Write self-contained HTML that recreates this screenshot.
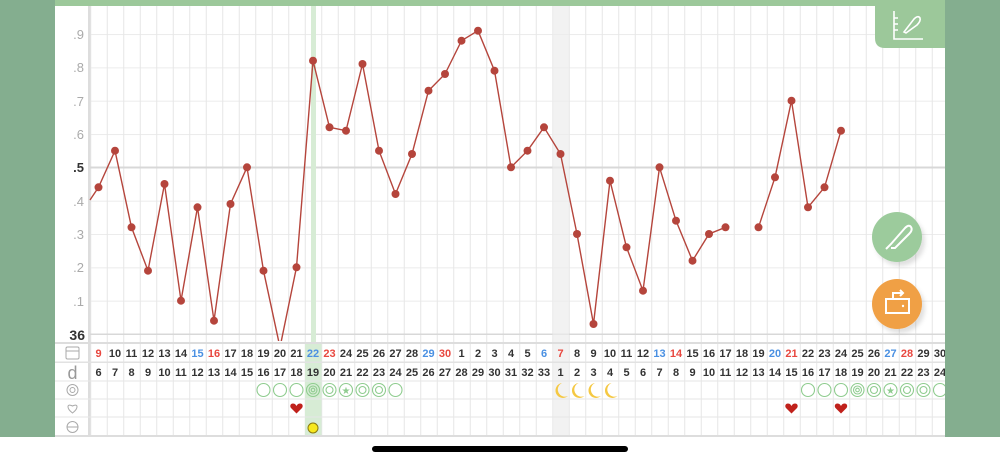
<!DOCTYPE html>
<html><head><meta charset="utf-8"><style>
html,body{margin:0;padding:0;background:#fff;}
svg{display:block;font-family:"Liberation Sans",sans-serif;}
.t{font-size:11px;fill:#333;text-anchor:middle;font-weight:bold;}
.r{fill:#e8473f;} .b{fill:#4a90e2;}
.ya{font-size:13px;fill:#aaa;text-anchor:end;}
</style></head><body>
<svg width="1000" height="462" viewBox="0 0 1000 462">
<defs>
<pattern id="vg" x="90.25" y="0" width="16.5" height="10" patternUnits="userSpaceOnUse"><rect x="0" y="0" width="1" height="10" fill="#e6e6e6"/></pattern>
<pattern id="hg" x="0" y="0.7" width="10" height="33.33" patternUnits="userSpaceOnUse"><rect x="0" y="0" width="10" height="1" fill="#ececec"/></pattern>
<filter id="sh" x="-30%" y="-30%" width="170%" height="170%"><feDropShadow dx="3" dy="4" stdDeviation="2" flood-color="#000" flood-opacity="0.12"/></filter>
</defs>
<rect x="0" y="0" width="1000" height="462" fill="#fff"/>
<rect x="90" y="5" width="855" height="338" fill="url(#hg)"/>
<rect x="90" y="5" width="855" height="431" fill="url(#vg)"/>
<rect x="88" y="5" width="2.5" height="431" fill="#ddd"/>
<rect x="90" y="166.5" width="855" height="2" fill="#d8d8d8"/>
<rect x="90" y="333.5" width="855" height="1.5" fill="#d8d8d8"/>
<rect x="311" y="5" width="5" height="338" fill="#d7ecd5"/>
<rect x="305" y="343" width="16.5" height="93" fill="#d7ecd5"/>
<rect x="552.5" y="5" width="16.5" height="431" fill="#ececec" opacity="0.7"/>
<rect x="55" y="342" width="890" height="2" fill="#ddd"/>
<rect x="55" y="361.5" width="890" height="1.5" fill="#e2e2e2"/>
<rect x="55" y="380.5" width="890" height="1" fill="#e6e6e6"/>
<rect x="55" y="398.5" width="890" height="1" fill="#e6e6e6"/>
<rect x="55" y="416.5" width="890" height="1" fill="#e6e6e6"/>
<rect x="55" y="435" width="890" height="2" fill="#ddd"/>
<text class="ya" x="84" y="39">.9</text>
<text class="ya" x="84" y="72">.8</text>
<text class="ya" x="84" y="106">.7</text>
<text class="ya" x="84" y="139">.6</text>
<text class="ya" x="84" y="172" style="fill:#333;font-weight:bold">.5</text>
<text class="ya" x="84" y="206">.4</text>
<text class="ya" x="84" y="239">.3</text>
<text class="ya" x="84" y="272">.2</text>
<text class="ya" x="84" y="306">.1</text>
<text class="ya" x="85" y="340" style="fill:#333;font-weight:bold;font-size:14px">36</text>
<svg x="0" y="0" width="1000" height="341" overflow="hidden">
<polyline fill="none" stroke="#b5453c" stroke-width="1.4" points="90,200 98.5,187.3 115,150.7 131.5,227.3 148,270.7 164.5,184 181,300.7 197.5,207.3 214,320.7 230.5,204 247,167.3 263.5,270.7 280,347.3 296.5,267.3 313,60.7 329.5,127.3 346,130.7 362.5,64 379,150.7 395.5,194 412,154 428.5,90.7 445,74 461.5,40.7 478,30.7 494.5,70.7 511,167.3 527.5,150.7 544,127.3 560.5,154 577,234 593.5,324 610,180.7 626.5,247.3 643,290.7 659.5,167.3 676,220.7 692.5,260.7 709,234 725.5,227.3"/>
<polyline fill="none" stroke="#b5453c" stroke-width="1.4" points="758.5,227.3 775,177.3 791.5,100.7 808,207.3 824.5,187.3 841,130.7"/>
<g fill="#b5453c">
<circle cx="98.5" cy="187.3" r="4"/><circle cx="115" cy="150.7" r="4"/><circle cx="131.5" cy="227.3" r="4"/><circle cx="148" cy="270.7" r="4"/><circle cx="164.5" cy="184" r="4"/><circle cx="181" cy="300.7" r="4"/><circle cx="197.5" cy="207.3" r="4"/><circle cx="214" cy="320.7" r="4"/><circle cx="230.5" cy="204" r="4"/><circle cx="247" cy="167.3" r="4"/><circle cx="263.5" cy="270.7" r="4"/><circle cx="296.5" cy="267.3" r="4"/><circle cx="313" cy="60.7" r="4"/><circle cx="329.5" cy="127.3" r="4"/><circle cx="346" cy="130.7" r="4"/><circle cx="362.5" cy="64" r="4"/><circle cx="379" cy="150.7" r="4"/><circle cx="395.5" cy="194" r="4"/><circle cx="412" cy="154" r="4"/><circle cx="428.5" cy="90.7" r="4"/><circle cx="445" cy="74" r="4"/><circle cx="461.5" cy="40.7" r="4"/><circle cx="478" cy="30.7" r="4"/><circle cx="494.5" cy="70.7" r="4"/><circle cx="511" cy="167.3" r="4"/><circle cx="527.5" cy="150.7" r="4"/><circle cx="544" cy="127.3" r="4"/><circle cx="560.5" cy="154" r="4"/><circle cx="577" cy="234" r="4"/><circle cx="593.5" cy="324" r="4"/><circle cx="610" cy="180.7" r="4"/><circle cx="626.5" cy="247.3" r="4"/><circle cx="643" cy="290.7" r="4"/><circle cx="659.5" cy="167.3" r="4"/><circle cx="676" cy="220.7" r="4"/><circle cx="692.5" cy="260.7" r="4"/><circle cx="709" cy="234" r="4"/><circle cx="725.5" cy="227.3" r="4"/><circle cx="758.5" cy="227.3" r="4"/><circle cx="775" cy="177.3" r="4"/><circle cx="791.5" cy="100.7" r="4"/><circle cx="808" cy="207.3" r="4"/><circle cx="824.5" cy="187.3" r="4"/><circle cx="841" cy="130.7" r="4"/>
</g>
</svg>
<g>
<text x="98.5" y="357" class="t r">9</text><text x="115" y="357" class="t">10</text><text x="131.5" y="357" class="t">11</text><text x="148" y="357" class="t">12</text><text x="164.5" y="357" class="t">13</text><text x="181" y="357" class="t">14</text><text x="197.5" y="357" class="t b">15</text><text x="214" y="357" class="t r">16</text><text x="230.5" y="357" class="t">17</text><text x="247" y="357" class="t">18</text><text x="263.5" y="357" class="t">19</text><text x="280" y="357" class="t">20</text><text x="296.5" y="357" class="t">21</text><text x="313" y="357" class="t b">22</text><text x="329.5" y="357" class="t r">23</text><text x="346" y="357" class="t">24</text><text x="362.5" y="357" class="t">25</text><text x="379" y="357" class="t">26</text><text x="395.5" y="357" class="t">27</text><text x="412" y="357" class="t">28</text><text x="428.5" y="357" class="t b">29</text><text x="445" y="357" class="t r">30</text><text x="461.5" y="357" class="t">1</text><text x="478" y="357" class="t">2</text><text x="494.5" y="357" class="t">3</text><text x="511" y="357" class="t">4</text><text x="527.5" y="357" class="t">5</text><text x="544" y="357" class="t b">6</text><text x="560.5" y="357" class="t r">7</text><text x="577" y="357" class="t">8</text><text x="593.5" y="357" class="t">9</text><text x="610" y="357" class="t">10</text><text x="626.5" y="357" class="t">11</text><text x="643" y="357" class="t">12</text><text x="659.5" y="357" class="t b">13</text><text x="676" y="357" class="t r">14</text><text x="692.5" y="357" class="t">15</text><text x="709" y="357" class="t">16</text><text x="725.5" y="357" class="t">17</text><text x="742" y="357" class="t">18</text><text x="758.5" y="357" class="t">19</text><text x="775" y="357" class="t b">20</text><text x="791.5" y="357" class="t r">21</text><text x="808" y="357" class="t">22</text><text x="824.5" y="357" class="t">23</text><text x="841" y="357" class="t">24</text><text x="857.5" y="357" class="t">25</text><text x="874" y="357" class="t">26</text><text x="890.5" y="357" class="t b">27</text><text x="907" y="357" class="t r">28</text><text x="923.5" y="357" class="t">29</text><text x="940" y="357" class="t">30</text>
</g>
<g>
<text x="98.5" y="376" class="t">6</text><text x="115" y="376" class="t">7</text><text x="131.5" y="376" class="t">8</text><text x="148" y="376" class="t">9</text><text x="164.5" y="376" class="t">10</text><text x="181" y="376" class="t">11</text><text x="197.5" y="376" class="t">12</text><text x="214" y="376" class="t">13</text><text x="230.5" y="376" class="t">14</text><text x="247" y="376" class="t">15</text><text x="263.5" y="376" class="t">16</text><text x="280" y="376" class="t">17</text><text x="296.5" y="376" class="t">18</text><text x="313" y="376" class="t">19</text><text x="329.5" y="376" class="t">20</text><text x="346" y="376" class="t">21</text><text x="362.5" y="376" class="t">22</text><text x="379" y="376" class="t">23</text><text x="395.5" y="376" class="t">24</text><text x="412" y="376" class="t">25</text><text x="428.5" y="376" class="t">26</text><text x="445" y="376" class="t">27</text><text x="461.5" y="376" class="t">28</text><text x="478" y="376" class="t">29</text><text x="494.5" y="376" class="t">30</text><text x="511" y="376" class="t">31</text><text x="527.5" y="376" class="t">32</text><text x="544" y="376" class="t">33</text><text x="560.5" y="376" class="t">1</text><text x="577" y="376" class="t">2</text><text x="593.5" y="376" class="t">3</text><text x="610" y="376" class="t">4</text><text x="626.5" y="376" class="t">5</text><text x="643" y="376" class="t">6</text><text x="659.5" y="376" class="t">7</text><text x="676" y="376" class="t">8</text><text x="692.5" y="376" class="t">9</text><text x="709" y="376" class="t">10</text><text x="725.5" y="376" class="t">11</text><text x="742" y="376" class="t">12</text><text x="758.5" y="376" class="t">13</text><text x="775" y="376" class="t">14</text><text x="791.5" y="376" class="t">15</text><text x="808" y="376" class="t">16</text><text x="824.5" y="376" class="t">17</text><text x="841" y="376" class="t">18</text><text x="857.5" y="376" class="t">19</text><text x="874" y="376" class="t">20</text><text x="890.5" y="376" class="t">21</text><text x="907" y="376" class="t">22</text><text x="923.5" y="376" class="t">23</text><text x="940" y="376" class="t">24</text>
</g>
<g stroke="#aaa" fill="none" stroke-width="1">
<rect x="66" y="347" width="13" height="12" rx="1.5"/><line x1="66" y1="351" x2="79" y2="351"/>
<circle cx="72.5" cy="390" r="5.5"/><circle cx="72.5" cy="390" r="2.5"/>
<path d="M72.5 413 C66 408 67 403 72.5 406 C78 403 79 408 72.5 413Z"/>
<circle cx="72.5" cy="427" r="5.5"/><path d="M67 427 H78"/>
</g>
<text x="72.5" y="379" style="font-size:18px;fill:#999;text-anchor:middle">d</text>
<g fill="none" stroke="#8fcc8f" stroke-width="1.1">
<circle cx="263.5" cy="390" r="6.5"/><circle cx="280" cy="390" r="6.5"/><circle cx="296.5" cy="390" r="6.5"/>
<circle cx="313" cy="390" r="6.5"/><circle cx="313" cy="390" r="4"/><circle cx="313" cy="390" r="1.8"/>
<circle cx="329.5" cy="390" r="6.5"/><circle cx="329.5" cy="390" r="3.5"/>
<circle cx="346" cy="390" r="6.5"/>
<circle cx="362.5" cy="390" r="6.5"/><circle cx="362.5" cy="390" r="3.5"/>
<circle cx="379" cy="390" r="6.5"/><circle cx="379" cy="390" r="3.5"/>
<circle cx="395.5" cy="390" r="6.5"/>
<circle cx="808" cy="390" r="6.5"/><circle cx="824.5" cy="390" r="6.5"/><circle cx="841" cy="390" r="6.5"/>
<circle cx="857.5" cy="390" r="6.5"/><circle cx="857.5" cy="390" r="4"/><circle cx="857.5" cy="390" r="1.8"/>
<circle cx="874" cy="390" r="6.5"/><circle cx="874" cy="390" r="3.5"/>
<circle cx="890.5" cy="390" r="6.5"/>
<circle cx="907" cy="390" r="6.5"/><circle cx="907" cy="390" r="3.5"/>
<circle cx="923.5" cy="390" r="6.5"/><circle cx="923.5" cy="390" r="3.5"/>
<circle cx="940" cy="390" r="6.5"/>
</g>
<text x="346" y="394" style="font-size:10px;fill:#8fcc8f;text-anchor:middle">★</text>
<text x="890.5" y="394" style="font-size:10px;fill:#8fcc8f;text-anchor:middle">★</text>
<g fill="#f5c842">
<path d="M562 383 A7.5 7.5 0 1 0 568 396 A6 6 0 1 1 562 383Z"/>
<path d="M578.5 383 A7.5 7.5 0 1 0 584.5 396 A6 6 0 1 1 578.5 383Z"/>
<path d="M595 383 A7.5 7.5 0 1 0 601 396 A6 6 0 1 1 595 383Z"/>
<path d="M611.5 383 A7.5 7.5 0 1 0 617.5 396 A6 6 0 1 1 611.5 383Z"/>
</g>
<g fill="#c0211b">
<path d="M296.5 413.5 L291 408 C289.5 406 290.5 403.5 293 403.5 C295 403.5 296 405 296.5 406 C297 405 298 403.5 300 403.5 C302.5 403.5 303.5 406 302 408Z"/>
<path d="M791.5 413.5 L786 408 C784.5 406 785.5 403.5 788 403.5 C790 403.5 791 405 791.5 406 C792 405 793 403.5 795 403.5 C797.5 403.5 798.5 406 797 408Z"/>
<path d="M841 413.5 L835.5 408 C834 406 835 403.5 837.5 403.5 C839.5 403.5 840.5 405 841 406 C841.5 405 842.5 403.5 844.5 403.5 C847 403.5 848 406 846.5 408Z"/>
</g>
<circle cx="313" cy="428" r="5" fill="#f7e81e" stroke="#8a7a10" stroke-width="1"/>
<rect x="0" y="0" width="1000" height="6" fill="#9cc89a"/>
<rect x="0" y="0" width="55" height="437" fill="#84ae8f"/>
<rect x="945" y="0" width="55" height="437" fill="#84ae8f"/>
<path d="M875 5 H945 V48 H885 Q875 48 875 38Z" fill="#9cc89a"/>
<g stroke="#fff" stroke-width="1.6" fill="none">
<path d="M894 11 V39 H923"/><path d="M894 18 H898 M894 24 H898 M894 30 H898"/>
<path d="M904 32 L914 19 Q918 15 920 18 Q921 21 917 25 L906 33Z"/>
</g>
<circle cx="897" cy="237" r="25" fill="#9ccb9c" filter="url(#sh)"/>
<g stroke="#fff" stroke-width="2" fill="none"><path d="M886 249 L891 244 L905 228 Q909 224 911 227 Q913 230 909 234 L895 248 L891 248"/></g>
<circle cx="897" cy="304" r="25" fill="#f0a045" filter="url(#sh)"/>
<g stroke="#fff" stroke-width="2" fill="none"><rect x="886" y="299" width="23" height="14"/><path d="M893 299 V293 H903 M900 290 L903 293 L900 296"/></g>
<circle cx="903" cy="306" r="1.2" fill="#fff"/>
<rect x="372" y="446" width="256" height="6" rx="3" fill="#000"/>
</svg>
</body></html>
